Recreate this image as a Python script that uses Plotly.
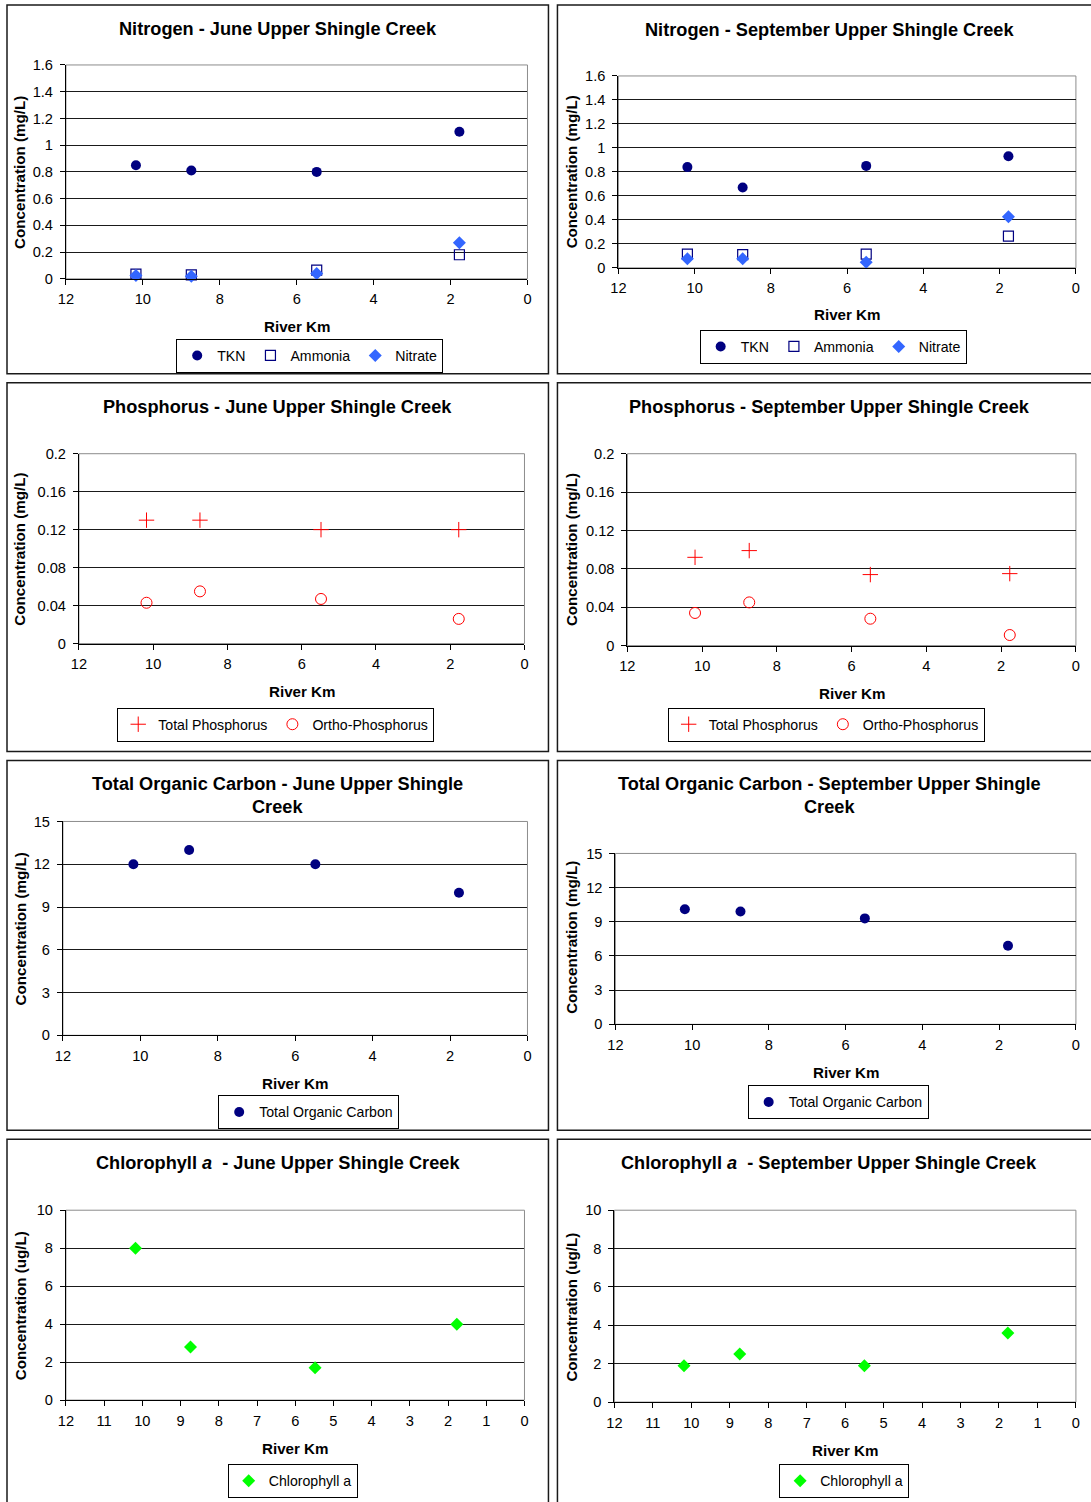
import plotly.graph_objects as go

W, H = 1091, 1502
FONT = "Liberation Sans, Arial, sans-serif"

# ---------------- data ----------------
km_june = [10.18, 8.74, 5.48, 1.77]
km_sept = [10.19, 8.74, 5.50, 1.77]

tkn_june = [0.85, 0.81, 0.80, 1.10]
ammonia_june = [0.035, 0.03, 0.065, 0.18]
nitrate_june = [0.025, 0.02, 0.04, 0.27]

tkn_sept = [0.84, 0.67, 0.85, 0.93]
ammonia_sept = [0.115, 0.11, 0.115, 0.265]
nitrate_sept = [0.075, 0.075, 0.047, 0.425]

tp_june = [0.13, 0.13, 0.12, 0.12]
op_june = [0.043, 0.055, 0.047, 0.026]
tp_sept = [0.092, 0.099, 0.074, 0.075]
op_sept = [0.034, 0.045, 0.028, 0.011]

toc_june = [12, 13, 12, 10]
toc_sept = [10.1, 9.9, 9.3, 6.9]

chl_june = [8.0, 2.8, 1.7, 4.0]
chl_sept = [1.9, 2.5, 1.9, 3.6]

# ---------------- marker styles ----------------
NAVY = "#000080"
S_TKN = dict(symbol="circle", size=10, color=NAVY)
S_AMM = dict(symbol="square-open", size=10, color=NAVY, line=dict(width=1.2, color=NAVY))
S_NIT = dict(symbol="diamond", size=10, color="#3366FF")
S_TP = dict(symbol="cross-thin", size=11, color="red", line=dict(width=1, color="red"))
S_OP = dict(symbol="circle-open", size=11, color="red", line=dict(width=1, color="red"))
S_TOC = dict(symbol="circle", size=10, color=NAVY)
S_CHL = dict(symbol="diamond", size=10, color="#00FF00")

panels = [
    dict(border=(6, 4, 548, 373), plot=(65, 64, 527, 278),
         title=["Nitrogen - June Upper Shingle Creek"], title_y=[28],
         ytitle="Concentration (mg/L)", ytx=19, yty=171, xtitle_y=326,
         leg=(309, 355), yr=1.6, ydt=0.2, xdt=2,
         series=[("TKN", km_june, tkn_june, S_TKN),
                 ("Ammonia", km_june, ammonia_june, S_AMM),
                 ("Nitrate", km_june, nitrate_june, S_NIT)]),
    dict(border=(557, 4, 1110, 373), plot=(618, 75, 1076, 267),
         title=["Nitrogen - September Upper Shingle Creek"], title_y=[29],
         ytitle="Concentration (mg/L)", ytx=571, yty=171, xtitle_y=314,
         leg=(833, 346), yr=1.6, ydt=0.2, xdt=2,
         series=[("TKN", km_sept, tkn_sept, S_TKN),
                 ("Ammonia", km_sept, ammonia_sept, S_AMM),
                 ("Nitrate", km_sept, nitrate_sept, S_NIT)]),
    dict(border=(6, 382, 548, 751), plot=(78, 453, 524, 643),
         title=["Phosphorus - June Upper Shingle Creek"], title_y=[406],
         ytitle="Concentration (mg/L)", ytx=19, yty=548, xtitle_y=691,
         leg=(275, 724), yr=0.2, ydt=0.04, xdt=2,
         series=[("Total Phosphorus", km_june, tp_june, S_TP),
                 ("Ortho-Phosphorus", km_june, op_june, S_OP)]),
    dict(border=(557, 382, 1110, 751), plot=(627, 453, 1076, 645),
         title=["Phosphorus - September Upper Shingle Creek"], title_y=[406],
         ytitle="Concentration (mg/L)", ytx=571, yty=549, xtitle_y=693,
         leg=(826, 724), yr=0.2, ydt=0.04, xdt=2,
         series=[("Total Phosphorus", km_sept, tp_sept, S_TP),
                 ("Ortho-Phosphorus", km_sept, op_sept, S_OP)]),
    dict(border=(6, 760, 548, 1130), plot=(62, 821, 527, 1035),
         title=["Total Organic Carbon - June Upper Shingle", "Creek"], title_y=[784, 807],
         ytitle="Concentration (mg/L)", ytx=19, yty=928, xtitle_y=1083,
         leg=(308, 1112), yr=15, ydt=3, xdt=2,
         series=[("Total Organic Carbon", km_june, toc_june, S_TOC)]),
    dict(border=(557, 760, 1110, 1130), plot=(615, 853, 1076, 1024),
         title=["Total Organic Carbon - September Upper Shingle", "Creek"], title_y=[784, 807],
         ytitle="Concentration (mg/L)", ytx=571, yty=937, xtitle_y=1072,
         leg=(838, 1102), yr=15, ydt=3, xdt=2,
         series=[("Total Organic Carbon", km_sept, toc_sept, S_TOC)]),
    dict(border=(6, 1139, 548, 1520), plot=(65, 1210, 524, 1400),
         title=["Chlorophyll <i>a</i>  - June Upper Shingle Creek"], title_y=[1163],
         ytitle="Concentration (ug/L)", ytx=19, yty=1305, xtitle_y=1448,
         leg=(292, 1481), yr=10, ydt=2, xdt=1,
         series=[("Chlorophyll a", km_june, chl_june, S_CHL)]),
    dict(border=(557, 1139, 1110, 1520), plot=(614, 1210, 1076, 1402),
         title=["Chlorophyll <i>a</i>  - September Upper Shingle Creek"], title_y=[1163],
         ytitle="Concentration (ug/L)", ytx=571, yty=1307, xtitle_y=1450,
         leg=(844, 1481), yr=10, ydt=2, xdt=1,
         series=[("Chlorophyll a", km_sept, chl_sept, S_CHL)]),
]

# the rendered page is shown slightly inset; compensate so positions line up
K, OFF = 0.99, 7.0


def fx(px):
    return ((px - OFF) / K) / W


def fy(py):
    return 1 - ((py - OFF) / K) / H


def fs(size):
    return size / K


fig = go.Figure()
layout = dict(width=W, height=H, margin=dict(l=0, r=0, t=0, b=0),
              paper_bgcolor="white", plot_bgcolor="white",
              font=dict(family=FONT, size=fs(14), color="black"),
              showlegend=True)
shapes = []
annotations = []
TICKFONT = dict(family=FONT, size=fs(14.5), color="black")

for i, p in enumerate(panels, start=1):
    sfx = "" if i == 1 else str(i)
    xa, ya, lg = f"x{sfx}", f"y{sfx}", f"legend{sfx}"
    x0, y0, x1, y1 = p["plot"]
    layout[f"xaxis{sfx}"] = dict(
        domain=[fx(x0), fx(x1)], anchor=ya, range=[12, 0], autorange=False,
        dtick=p["xdt"], tick0=0, showgrid=False, zeroline=False,
        showline=True, linecolor="black", linewidth=1,
        ticks="outside", ticklen=5, tickcolor="black", tickwidth=1,
        ticklabelstandoff=2, tickfont=TICKFONT, fixedrange=True)
    layout[f"yaxis{sfx}"] = dict(
        domain=[fy(y1), fy(y0)], anchor=xa, range=[0, p["yr"]], autorange=False,
        dtick=p["ydt"], tick0=0, showgrid=True, gridcolor="#1a1a1a", gridwidth=1,
        zeroline=False, showline=True, linecolor="black", linewidth=1,
        ticks="outside", ticklen=5, tickcolor="black", tickwidth=1,
        ticklabelstandoff=4, tickfont=TICKFONT, fixedrange=True)
    lx, ly = p["leg"]
    layout[lg] = dict(x=fx(lx), y=fy(ly), xanchor="center", yanchor="middle",
                      orientation="h", bgcolor="white", bordercolor="black",
                      borderwidth=1, itemwidth=30,
                      font=dict(family=FONT, size=fs(14), color="black"))
    for name, xs, ys, mk in p["series"]:
        fig.add_trace(go.Scatter(x=xs, y=ys, mode="markers", name=name,
                                 marker=mk, xaxis=xa, yaxis=ya, legend=lg,
                                 cliponaxis=False))
    # gray plot-area frame (top/right)
    shapes.append(dict(type="rect", xref=f"{xa} domain", yref=f"{ya} domain",
                       x0=0, x1=1, y0=0, y1=1, layer="below",
                       line=dict(color="#8c8c8c", width=1)))
    # panel border
    bx0, by0, bx1, by1 = p["border"]
    shapes.append(dict(type="rect", xref="paper", yref="paper",
                       x0=fx(bx0), x1=fx(bx1), y0=fy(by1), y1=fy(by0),
                       line=dict(color="#1a1a1a", width=1.5), layer="above"))
    # titles
    cx = 277 if bx0 < 550 else 829
    for line, ty in zip(p["title"], p["title_y"]):
        annotations.append(dict(text=f"<b>{line}</b>", x=fx(cx), y=fy(ty),
                                xref="paper", yref="paper", showarrow=False,
                                xanchor="center", yanchor="middle",
                                font=dict(family=FONT, size=fs(18), color="black")))
    annotations.append(dict(text=f"<b>{p['ytitle']}</b>", x=fx(p["ytx"]), y=fy(p["yty"]),
                            xref="paper", yref="paper", showarrow=False, textangle=-90,
                            xanchor="center", yanchor="middle",
                            font=dict(family=FONT, size=fs(15), color="black")))
    annotations.append(dict(text="<b>River Km</b>", x=fx((x0 + x1) / 2), y=fy(p["xtitle_y"]),
                            xref="paper", yref="paper", showarrow=False,
                            xanchor="center", yanchor="middle",
                            font=dict(family=FONT, size=fs(15), color="black")))

layout["shapes"] = shapes
layout["annotations"] = annotations
fig.update_layout(**layout)
fig.write_html("out.html", config={"displayModeBar": False},
               post_script="document.body.style.margin='0';document.body.style.overflow='hidden';")
